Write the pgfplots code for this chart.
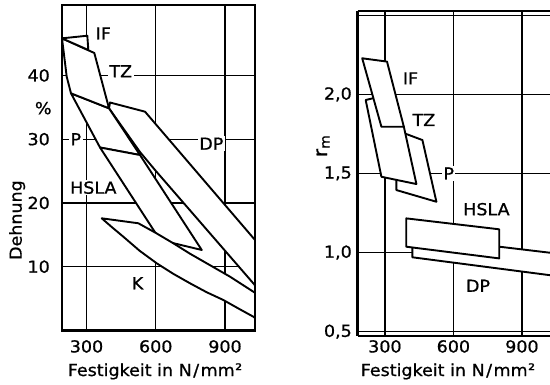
\documentclass[border=0pt]{standalone}
\usepackage{pgfplots}
\pgfplotsset{compat=1.18}
\usepackage{fontspec}
\setmainfont{DejaVu Sans}[FakeStretch=1.06, FakeBold=0.9]
\newcommand\f{\fontsize{16.5}{20}\selectfont}
\newcommand\unitlab{Festigkeit in N\kern1.5pt/\kern1.5pt mm\kern0.5pt\raisebox{0.5pt}{²}}
\pgfplotsset{
  layers/mylayers/.define layer set={axis background,axis grid,pre main,main,axis ticks,axis lines,axis tick labels,axis descriptions,axis foreground}{},
  region/.style={draw=black, fill=white, line width=1.9pt, line join=round},
  panel/.style={
    scale only axis, set layers=mylayers,
    grid=major, major grid style={black, line width=1.4pt},
    major tick length=0pt,
    tick label style={font=\f},
    label style={font=\f},
    /pgf/number format/assume math mode=true,
  },
}
\tikzset{lab/.style={fill=white, inner sep=1.5pt, font=\f}}
\begin{document}
\f
\begin{tikzpicture}
% ---------------- left panel ----------------
\begin{axis}[panel, at={(62pt,53.6pt)}, anchor=south west,
  width=193pt, height=325.4pt,
  axis line style={line width=2.2pt},
  xmin=193.8, xmax=1030, ymin=0, ymax=51.06,
  xtick={300,600,900}, ytick={10,20,30,40},
  xticklabel style={yshift=-4.1pt},
  yticklabel style={xshift=-6.5pt},
  xlabel={\unitlab},
  xlabel style={at={(axis description cs:0.482,0)}, anchor=base, yshift=-45.6pt},
  ylabel={Dehnung},
  ylabel style={at={(axis description cs:-0.209,0.339)}, anchor=base},
  extra description/.code={\node[font=\f] at (axis description cs:-0.097,0.683) {\%};},
]
\addplot[region] coordinates {(397.5,34.85) (401.8,35.76) (553.5,34.32) (1030,14.19) (1030,7.08) (596.8,25.17) (531.8,27.99)} -- cycle;
\addplot[region] coordinates {(232.8,37.20) (397.5,34.85) (531.8,27.52) (358.5,28.70)} -- cycle;
\addplot[region] coordinates {(358.5,28.70) (531.8,27.52) (799.2,12.62) (618.5,14.19)} -- cycle;
\addplot[region] coordinates {(365.9,17.59) (524.5,16.81) (600,15.3) (676.1,13.67) (750,12.0) (820.8,10.53) (921.7,8.43) (1022.8,6.07) (1030,5.9) (1030,1.95) (1022.8,2.15) (960,3.4) (892.8,4.77) (820,6.0) (748.5,7.39) (675,8.9) (604.2,10.53) (530,12.5) (459.5,14.70) (410,16.2)} -- cycle;
\addplot[region] coordinates {(193.8,45.83) (333.8,43.53) (397.5,34.85) (232.8,37.20) (214.2,39.81)} -- cycle;
\addplot[region] coordinates {(193.8,45.83) (303.5,46.24) (307.8,44.0)} -- cycle;
\node[lab] at (axis cs:372.8,46.6) {IF};
\node[lab] at (axis cs:448.6,40.67) {TZ};
\node[lab] at (axis cs:253.6,30.0) {P};
\node[lab] at (axis cs:840.8,29.3) {DP};
\node[lab] at (axis cs:329.5,22.4) {HSLA};
\node[lab] at (axis cs:521,7.4) {K};
\end{axis}
% ---------------- right panel ----------------
\begin{axis}[panel, at={(357.5pt,48.4pt)}, anchor=south west,
  width=192.5pt, height=324.3pt,
  axis x line=box, axis y line=left,
  axis line style={line width=2.2pt,-},
  xmin=180, xmax=1023, ymin=0.475, ymax=2.525,
  xtick={300,600,900}, ytick={0.5,1,1.5,2},
  extra y ticks={2.5}, extra y tick labels={}, extra y tick style={grid=major},
  xticklabel pos=lower,
  xticklabel style={yshift=1.1pt},
  yticklabel style={/pgf/number format/.cd, fixed, fixed zerofill, precision=1, use comma},
  xlabel={\unitlab},
  xlabel style={at={(axis description cs:0.47,0)}, anchor=base, yshift=-40.4pt},
  ylabel={\fontsize{19}{22}\selectfont r\textsubscript{m}},
  ylabel style={at={(axis description cs:-0.179,0.585)}, anchor=center},
]
\addplot[region] coordinates {(420.5,1.10) (420.5,0.970) (1022,0.857) (1100,0.842) (1100,0.985) (1022,0.999) (800.6,1.037)} -- cycle;
\addplot[region] coordinates {(393.3,1.216) (800.6,1.147) (800.6,0.963) (393.3,1.037)} -- cycle;
\addplot[region] coordinates {(375,1.70) (386.7,1.753) (464.3,1.711) (525.6,1.321) (350.4,1.395) (350.4,1.55)} -- cycle;
\addplot[region] coordinates {(215.9,1.964) (255,1.978) (383,1.795) (438,1.433) (284.7,1.479)} -- cycle;
\addplot[region] coordinates {(200.6,2.228) (309.2,2.207) (383,1.795) (284.7,1.795)} -- cycle;
\node[lab] at (axis cs:412.1,2.101) {IF};
\node[lab] at (axis cs:470.8,1.838) {TZ};
\node[lab] at (axis cs:579.4,1.5) {P};
\node[lab] at (axis cs:744.6,1.274) {HSLA};
\node[lab] at (axis cs:707.8,0.79) {DP};
\end{axis}
\pgfresetboundingbox
\path[use as bounding box] (0,0) rectangle (550pt,384pt);
\end{tikzpicture}
\end{document}
